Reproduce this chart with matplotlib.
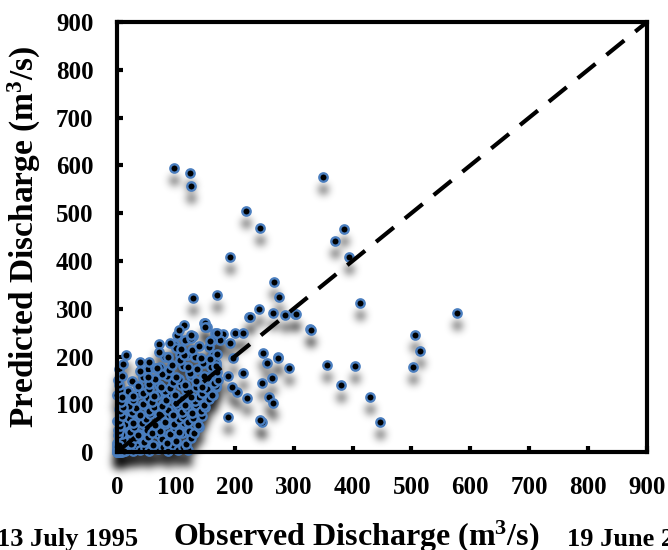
import numpy as np
import matplotlib
matplotlib.use("Agg")
import matplotlib.pyplot as plt
from matplotlib.transforms import offset_copy

plt.rcParams['font.family'] = ['Liberation Serif', 'DejaVu Serif']
plt.rcParams['font.weight'] = 'bold'
plt.rcParams['mathtext.fontset'] = 'custom'
plt.rcParams['mathtext.bf'] = 'Liberation Serif:bold'
plt.rcParams['mathtext.rm'] = 'Liberation Serif:bold'
plt.rcParams['mathtext.default'] = 'bf'

# observed / predicted discharge (m3/s)
# scattered points
obs = [97, 124, 125, 220, 243, 350, 192, 385, 370, 394, 267, 275, 129, 170, 241, 224,
       265, 285, 302, 413, 114, 148, 328, 577, 506, 514, 503, 447, 430, 246, 330, 357,
       248, 273, 292, 255, 263, 246, 258, 265, 243, 188, 221, 204, 214, 188, 195, 163,
       197, 168, 168, 158, 155, 149, 153, 166, 180, 200, 214, 192, 175, 161, 129, 102,
       115, 71, 98, 107, 119, 15, 3, 39, 53, 73, 404, 380, 226, 304, 273]
pred = [595, 584, 556, 504, 468, 575, 408, 466, 441, 408, 356, 324, 322, 328, 299, 282,
        291, 287, 289, 312, 266, 270, 257, 291, 245, 211, 178, 63, 115, 63, 255, 182,
        207, 199, 177, 186, 155, 144, 115, 102, 67, 73, 113, 126, 165, 159, 136, 203,
        197, 186, 136, 130, 157, 270, 261, 249, 247, 249, 249, 228, 234, 234, 243, 245,
        234, 226, 224, 203, 203, 203, 173, 188, 173, 178, 180, 140, 282, 289, 197]

# dense cluster below 260 m3/s
obs_low = [0, 3, 6, 9, 14, 20, 27, 33, 40, 48, 55, 63, 70, 78, 86, 95, 103, 112, 120,
           0, 4, 10, 17, 24, 31, 38, 46, 53, 61, 69, 77, 85, 93, 101, 110, 118, 126,
           2, 8, 15, 22, 29, 36, 44, 51, 59, 66, 74, 82, 90, 98, 106, 114, 122, 131, 139,
           1, 7, 13, 20, 27, 35, 42, 50, 57, 65, 73, 81, 89, 97, 105, 113, 121, 129, 137, 145,
           3, 10, 17, 25, 32, 40, 47, 55, 63, 71, 79, 87, 95, 103, 111, 119, 127, 135, 143, 150,
           5, 12, 20, 28, 36, 44, 52, 60, 68, 76, 84, 92, 100, 108, 116, 124, 132, 140, 148, 156, 163,
           18, 27, 36, 45, 54, 63, 72, 81, 90, 99, 108, 117, 126, 135, 144, 153, 161, 169,
           25, 35, 45, 55, 65, 75, 85, 95, 105, 115, 125, 135, 145, 155, 165, 172,
           40, 52, 64, 76, 88, 100, 112, 124, 136, 148, 160, 170,
           55, 68, 81, 94, 107, 120, 133, 146, 158, 168,
           72, 86, 100, 114, 128, 142, 156, 170,
           90, 108, 125, 140, 158,
           105, 125, 150, 170,
           0, 1, 2, 0, 3, 1, 5, 4, 2, 7, 0, 9, 6, 3, 12,
           2, 4, 6, 3, 8, 5, 10, 7, 1, 6, 4, 2, 8, 11, 9]
pred_low = [0, 4, 1, 7, 3, 10, 2, 12, 5, 9, 3, 13, 6, 11, 2, 14, 5, 10, 4,
            18, 34, 25, 40, 16, 29, 37, 22, 31, 14, 38, 27, 19, 33, 24, 39, 17, 30,
            46, 38, 57, 43, 52, 35, 60, 47, 40, 56, 44, 58, 37, 50, 42, 61, 45, 39, 53,
            65, 77, 58, 72, 61, 79, 60, 70, 80, 57, 73, 64, 78, 59, 69, 76, 62, 71, 57, 75,
            90, 79, 98, 84, 93, 78, 99, 86, 95, 80, 100, 88, 77, 96, 84, 92, 81, 99, 86, 94,
            104, 118, 97, 110, 121, 100, 114, 105, 119, 96, 109, 122, 103, 112, 98, 117, 106, 115, 99, 111, 120,
            128, 117, 138, 123, 132, 118, 141, 127, 134, 119, 140, 129, 116, 136, 124, 131, 120, 139,
            149, 138, 158, 143, 152, 137, 160, 147, 154, 140, 159, 148, 136, 156, 144, 151,
            170, 158, 177, 163, 172, 157, 180, 166, 174, 160, 178, 167,
            189, 177, 198, 183, 192, 178, 200, 186, 195, 180,
            209, 198, 218, 203, 213, 197, 219, 206,
            228, 216, 238, 222, 233,
            255, 244, 262, 249,
            0, 1, 0, 3, 3, 6, 1, 4, 9, 2, 12, 0, 6, 15, 3,
            35, 45, 55, 65, 75, 85, 95, 105, 120, 130, 140, 150, 160, 185, 115]

obs_all = obs + obs_low
pred_all = pred + pred_low

ticks = [0, 100, 200, 300, 400, 500, 600, 700, 800, 900]


def blur_filter(im, dpi):
    # soft shadow: gaussian blur of the alpha channel
    pad = 14
    sigma = 3.0
    a = np.pad(im[:, :, 3], pad)
    r = np.arange(-9, 10)
    k = np.exp(-r ** 2 / (2 * sigma ** 2))
    k /= k.sum()
    a = np.apply_along_axis(lambda v: np.convolve(v, k, mode='same'), 0, a)
    a = np.apply_along_axis(lambda v: np.convolve(v, k, mode='same'), 1, a)
    out = np.zeros(a.shape + (4,))
    out[:, :, 3] = np.clip(a, 0, 1)
    return out, -pad, -pad


fig = plt.figure(figsize=(6.68, 5.5), dpi=100)
ax = fig.add_axes([0.175, 0.178, 0.7936, 0.782])

shadow_tr = offset_copy(ax.transData, fig=fig, x=0, y=-12, units='dots')
sh = ax.scatter(obs_all, pred_all, s=44, color='k', alpha=0.75, linewidths=0,
                zorder=2, clip_on=False, transform=shadow_tr)
sh.set_agg_filter(blur_filter)

ax.scatter(obs_all, pred_all, s=36, facecolor='k', edgecolor='#4A7EBF',
           linewidths=1.7, zorder=3, clip_on=False)

ax.plot([0, 900], [0, 900], color='k', lw=3, linestyle=(0, (5.5, 3.4)),
        zorder=4)

ax.set_xlim(0, 900)
ax.set_ylim(0, 900)
ax.set_xticks(ticks)
ax.set_yticks(ticks)
ax.tick_params(direction='in', length=4, width=3, pad=17, labelsize=18)
for lab in ax.get_xticklabels() + ax.get_yticklabels():
    lab.set_fontweight('bold')
for sp in ax.spines.values():
    sp.set_linewidth(3)
    sp.set_zorder(5)

ax.set_ylabel('Predicted Discharge (m$^3$/s)', fontsize=24, fontweight='bold',
              labelpad=9)

fig.text(-0.004, 0.008, '13 July 1995', fontsize=19, fontweight='bold',
         ha='left', va='baseline')
fig.text(0.534, 0.008, 'Observed Discharge (m$^3$/s)', fontsize=23,
         fontweight='bold', ha='center', va='baseline')
fig.text(0.849, 0.008, '19 June 2004', fontsize=19, fontweight='bold',
         ha='left', va='baseline')

fig.savefig('out.png', dpi=100)
